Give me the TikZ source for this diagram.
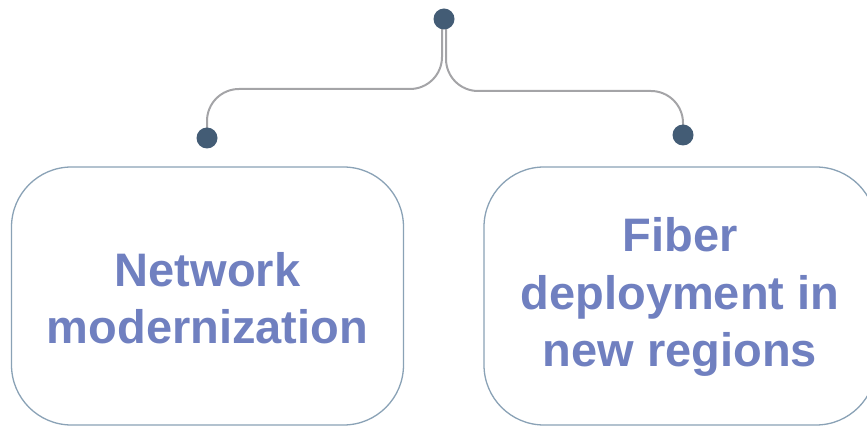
\documentclass[tikz,border=0pt]{standalone}
\usepackage{fontspec}
\setmainfont{Liberation Sans}
\pgfdeclarelayer{bg}
\pgfsetlayers{bg,main}
\definecolor{dotc}{HTML}{435C75}
\definecolor{linec}{HTML}{A4A4A7}
\definecolor{boxc}{HTML}{8AA2B6}
\definecolor{txtc}{HTML}{7080C0}
\tikzset{
  dotnode/.style={circle, fill=dotc, inner sep=0pt, minimum size=21pt},
  conn/.style={draw=linec, line width=2pt, rounded corners=32pt},
  boxnode/.style={draw=boxc, line width=1.3pt, rounded corners=60pt, fill=white,
    minimum width=392pt, minimum height=258pt, inner sep=0pt},
  txtnode/.style={text=txtc, align=center, inner sep=0pt,
    font=\fontsize{47}{57.5}\selectfont\bfseries}
}
\begin{document}
\begin{tikzpicture}[x=1pt,y=-1pt]
\useasboundingbox (0,0) rectangle (867,427);
\clip (0,0) rectangle (867,427);
\node[dotnode] (top) at (444,19) {};
\node[dotnode] (ldot) at (207,138) {};
\node[dotnode] (rdot) at (683,135) {};
\coordinate (busL) at (0,89);
\coordinate (busR) at (0,91);
\begin{pgfonlayer}{bg}
\draw[conn] ([xshift=-2pt]top.center) |- (busL -| ldot) -- (ldot.center);
\draw[conn] ([xshift=2pt]top.center) |- (busR -| rdot) -- (rdot.center);
\end{pgfonlayer}
\node[boxnode] (lbox) at (207.5,296) {};
\node[boxnode] (rbox) at (680,296) {};
\node[txtnode] (ltxt) at ([yshift=-2pt]lbox.center) {Network\\modernization};
\node[txtnode] (rtxt) at ([yshift=-1pt]rbox.center) {Fiber\\deployment in\\new regions};
\end{tikzpicture}
\end{document}
